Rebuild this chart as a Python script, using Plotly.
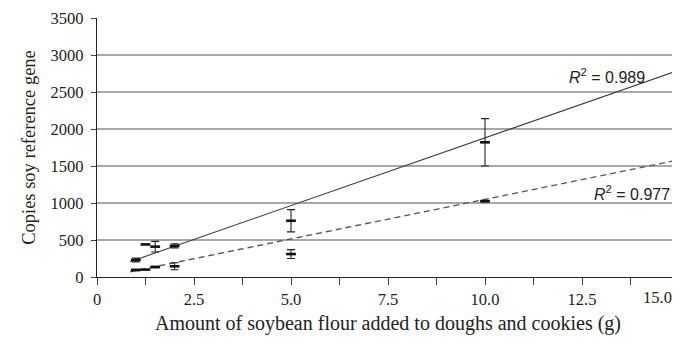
import plotly.graph_objects as go

# ---- data ----
amount_g = [1.0, 1.25, 1.5, 2.0, 5.0, 10.0, 15.0]

series_a_copies = [230, 440, 410, 420, 760, 1820, 2800]   # solid trend series
series_a_err = [25, 0, 72, 27, 150, 320, 840]

series_b_copies = [95, 100, 135, 145, 310, 1025, 1700]     # dashed trend series
series_b_err = [10, 0, 10, 47, 60, 10, 520]

trend_x = [0.85, 15.0]
trend_a = [206, 2795]
trend_b = [71, 1585]

r2_a_label = "<i>R</i><sup>2</sup> = 0.989"
r2_b_label = "<i>R</i><sup>2</sup> = 0.977"

y_tickvals = [0, 500, 1000, 1500, 2000, 2500, 3000, 3500]
x_tickvals = [0, 2.5, 5.0, 7.5, 10.0, 12.5, 15.0]
x_ticktext = ["0", "2.5", "5.0", "7.5", "10.0", "12.5", "15.0"]
x_minor_tickvals = [1.25, 3.75, 6.25, 8.75, 11.25, 13.75]

x_title = "Amount of soybean flour added to doughs and cookies (g)"
y_title = "Copies soy reference gene"

TICK_FONT = dict(family="Liberation Serif", size=16.5, color="#222222")

fig = go.Figure()

fig.add_trace(go.Scatter(
    x=trend_x, y=trend_a, mode="lines",
    line=dict(color="#3a3a3a", width=1.1), showlegend=False, hoverinfo="skip"))
fig.add_trace(go.Scatter(
    x=trend_x, y=trend_b, mode="lines",
    line=dict(color="#555555", width=1.3, dash="6px,4px"), showlegend=False, hoverinfo="skip"))

for vals, errs in [(series_a_copies, series_a_err), (series_b_copies, series_b_err)]:
    fig.add_trace(go.Scatter(
        x=amount_g, y=vals, mode="markers",
        marker=dict(symbol="line-ew", size=7, line=dict(color="#111111", width=2.6)),
        error_y=dict(type="data", array=errs, visible=True, color="#222222",
                     thickness=1.1, width=4),
        showlegend=False))

fig.add_annotation(x=14.18, y=2716, xref="x", yref="y", text=r2_a_label,
                   showarrow=False, xanchor="right", yanchor="middle",
                   font=dict(family="Liberation Sans", size=16, color="#222222"))
fig.add_annotation(x=14.82, y=1135, xref="x", yref="y", text=r2_b_label,
                   showarrow=False, xanchor="right", yanchor="middle",
                   font=dict(family="Liberation Sans", size=16, color="#222222"))

# last x tick label (drawn shifted left so it stays inside the page, as in the reference)
fig.add_annotation(x=x_tickvals[-1], y=0, xref="x", yref="paper", text=x_ticktext[-1],
                   showarrow=False, xanchor="right", yanchor="top", xshift=-5, yshift=-9,
                   font=TICK_FONT)

# the page body has an 8px margin, so the figure is 8px smaller and its margins 8px tighter
fig.update_layout(
    width=672, height=341,
    margin=dict(l=89, r=1, t=10, b=72),
    paper_bgcolor="white", plot_bgcolor="white",
    font=dict(family="Liberation Serif", size=16, color="#222222"),
)

fig.update_xaxes(
    range=[0, 15], tickvals=x_tickvals[:-1], ticktext=x_ticktext[:-1],
    tickfont=TICK_FONT,
    ticks="outside", ticklen=7, tickcolor="#444444", tickwidth=1.2,
    minor=dict(tickvals=x_minor_tickvals, ticks="outside", ticklen=7,
               tickcolor="#444444", tickwidth=1.2, showgrid=False),
    showline=True, linecolor="#222222", linewidth=1.3,
    showgrid=False, zeroline=False, automargin=False,
    title=dict(text=x_title, font=dict(size=20), standoff=8),
)
fig.update_yaxes(
    range=[0, 3500], tickvals=y_tickvals, tickfont=TICK_FONT,
    ticks="outside", ticklen=5, tickcolor="#444444", tickwidth=1.2,
    ticklabelstandoff=4,
    showline=True, linecolor="#222222", linewidth=1.3, mirror=False,
    showgrid=True, gridcolor="#a8a8a8", gridwidth=1.5,
    zeroline=False, automargin=False,
    title=dict(text=y_title, font=dict(size=18.5), standoff=10),
)

# right border line of the plot area
fig.add_shape(type="line", xref="paper", yref="paper", x0=1, x1=1, y0=0, y1=1,
              line=dict(color="#222222", width=1.5))

fig.write_html("out.html")
